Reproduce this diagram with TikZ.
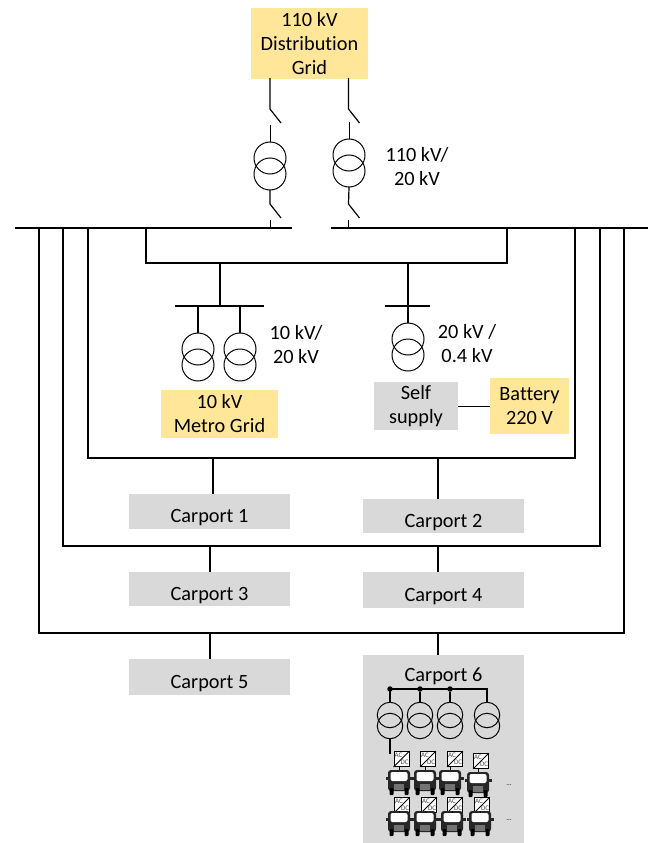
\documentclass[tikz,border=0pt]{standalone}
\usepackage{fontspec}
\setmainfont[Ligatures={NoCommon}]{Carlito}
\usetikzlibrary{positioning}

% transformer symbol: #1 name, #2 x, #3 y of the upper winding, #4 style
\newcommand{\transformer}[4]{
	\node[winding,#4] (#1-hi) at (#2,#3) {};
	\node[winding,#4,below=0pt of #1-hi,yshift=\windshift] (#1-lo) {};
}
\newlength{\windshift}

\tikzset{
	winding/.style={circle,draw,line width=1pt,inner sep=0pt,outer sep=0pt,minimum size=32pt},
	smallwinding/.style={minimum size=25.5pt},
	yellowbox/.style={fill=gridyellow,align=center,inner sep=0pt,outer sep=0pt},
	greybox/.style={fill=boxgrey,align=center,inner sep=0pt,outer sep=0pt},
	carportbox/.style={greybox,minimum width=161pt,text height=27pt,text depth=5pt},
	busbar/.style={line width=1.4pt},
	wire/.style={line width=1.2pt},
	junction/.style={circle,fill,inner sep=0pt,minimum size=5.5pt},
	textlabel/.style={align=center,inner sep=0pt},
	tiny label/.style={font=\fontsize{7}{7}\selectfont,inner sep=0pt},
	charger/.pic={
		\node[draw,fill=white,line width=.8pt,inner sep=0pt,minimum size=15pt] (-box) {};
		\draw[line width=.8pt] (-box.south west) -- (-box.north east);
		\node[tiny label,text=black!70] (-ac) at (-3,-3.5) {AC};
		\node[tiny label,text=black!70] (-dc) at (3.2,3.5) {DC};
	},
	van/.pic={
		\fill[black!85,rounded corners=3pt] (-11,-12) rectangle (11,9);
		\fill[black!85] (-13.5,-5) rectangle (13.5,-2);
		\fill[black,rounded corners=1pt] (-9.5,6) rectangle (-5.5,13);
		\fill[black,rounded corners=1pt] (5.5,6) rectangle (9.5,13);
		\fill[white,rounded corners=2pt] (-8.5,-10) rectangle (8.5,-1);
		\fill[black!55] (-5,2) rectangle (5,8);
		\coordinate (-top) at (0,-12);
	}
}

\definecolor{gridyellow}{HTML}{FFE699}
\definecolor{boxgrey}{HTML}{D9D9D9}

\begin{document}
\begin{tikzpicture}[x=1pt,y=-1pt,font=\fontsize{20.3}{24}\selectfont]
	\useasboundingbox (0,0) rectangle (654,843);
	\setlength{\windshift}{16pt}

	% boxes
	\node[yellowbox,minimum width=117pt,minimum height=71pt] (grid-110) at (309.5,43.5) {110 kV\\Distribution\\Grid};
	\node[yellowbox,minimum width=117pt,minimum height=48pt] (grid-metro) at (219.5,414) {10 kV\\Metro Grid};
	\node[greybox,minimum width=84pt,minimum height=48pt] (self-supply) at (416,406) {Self\\supply};
	\node[yellowbox,minimum width=79pt,minimum height=56pt] (battery) at (529.5,406) {Battery\\220 V};
	\node[carportbox,minimum height=35pt] (carport-1) at (209.5,511.5) {Carport 1};
	\node[carportbox,minimum height=34pt] (carport-2) at (443.5,516) {Carport 2};
	\node[carportbox,minimum height=34pt] (carport-3) at (209.5,589) {Carport 3};
	\node[carportbox,minimum height=36pt] (carport-4) at (443.5,590) {Carport 4};
	\node[carportbox,minimum height=36pt] (carport-5) at (209.5,677) {Carport 5};
	\node[greybox,minimum width=161pt,minimum height=188pt] (carport-6) at (443.5,749) {};
	\node[textlabel] (carport-6-title) at (443.5,676) {Carport 6};

	% voltage labels
	\node[textlabel] (label-110) at (417,166.5) {110 kV/\\20 kV};
	\node[textlabel] (label-10) at (296,344.5) {10 kV/\\20 kV};
	\node[textlabel] (label-20) at (467,343.5) {20 kV /\\0.4 kV};

	% main busbar
	\coordinate (bus-l-a) at (15,228);
	\coordinate (bus-l-b) at (292,228);
	\coordinate (bus-r-a) at (331,228);
	\coordinate (bus-r-b) at (648,228);
	\draw[busbar] (bus-l-a) -- (bus-l-b);
	\draw[busbar] (bus-r-a) -- (bus-r-b);

	% incoming feeders with switches
	\transformer{t-in-l}{270}{158}{}
	\transformer{t-in-r}{349}{155}{}
	\foreach \tr/\x/\xg in {t-in-l/270/270,t-in-r/349/348.5} {
		\draw[wire] (\xg,78) -- (\xg,109) -- (\xg+11,123);
		\draw[line width=1pt] (\tr-hi.north) -- ++(0,-17);
		\draw[wire] (\tr-lo.south) -- (\xg,204) -- (\xg+11,218);
		\draw[line width=1pt] (\xg,220) -- (\xg,228);
	}

	% middle ring
	\coordinate (ring-l) at (146,263);
	\coordinate (ring-r) at (507,263);
	\draw[wire] (146,228) -- (ring-l) -- (ring-r) -- (507,228);
	\coordinate (bar-m) at (220,306);
	\coordinate (bar-s) at (408,306);
	\draw[wire] (220,263) -- (bar-m);
	\draw[busbar] (175,306) -- (264,306);
	\draw[busbar] (385,306) -- (430,306);

	\transformer{t-m-1}{198}{349}{}
	\transformer{t-m-2}{240}{349}{}
	\transformer{t-s}{408}{339}{}
	\draw[wire] (198,306) -- (t-m-1-hi.north);
	\draw[wire] (240,306) -- (t-m-2-hi.north);
	\draw[wire] (408,263) -- (t-s-hi.north);
	\draw[line width=1pt] (self-supply.east) -- (battery.west);

	% outer feeders with carports
	\draw[wire] (88,228) -- (88,458) -- (575,458) -- (575,228);
	\draw[wire] (63,228) -- (63,546) -- (600,546) -- (600,228);
	\draw[wire] (39,228) -- (39,633) -- (624,633) -- (624,228);
	\foreach \c/\x/\y in {1/213/458,2/438/458,3/210/546,4/438/546,5/210/633,6/438/633} {
		\coordinate (tap-\c) at (\x,\y);
		\draw[wire] (tap-\c) -- (tap-\c |- carport-\c.north);
	}

	% carport 6
	\setlength{\windshift}{14.5pt}
	\foreach \i/\x in {1/390,2/420,3/450,4/487} {
		\transformer{t-c-\i}{\x}{715}{smallwinding}
	}
	\draw[wire] (t-c-1-hi.north) -- (390,689) -- (487,689) -- (t-c-4-hi.north);
	\foreach \i/\x in {1/390,2/420,3/450} {
		\node[junction] (dot-\i) at (\x,689) {};
		\draw[wire] (dot-\i) -- (t-c-\i-hi.north);
	}
	\coordinate (t-c-drop) at (390,754);
	\draw[wire] (t-c-1-lo.south) -- (t-c-drop);

	% chargers and vehicles
	\foreach \i/\cx/\cy/\vx/\vy in {1/401.5/759/399/782,2/428/759/425/782,3/455/759/450/782,4/481/761/478/784,
		5/402/805/399/823,6/429/805/425/823,7/455/805/452/823,8/482/805/480/823} {
		\pic (chg-\i) at (\cx,\cy) {charger};
		\pic (veh-\i) at (\vx,\vy) {van};
		\draw[line width=.8pt] (veh-\i-top) -- (veh-\i-top |- chg-\i-box.south);
	}
	\node[tiny label] (more-1) at (509,785) {...};
	\node[tiny label] (more-2) at (509,820) {...};
\end{tikzpicture}
\end{document}
